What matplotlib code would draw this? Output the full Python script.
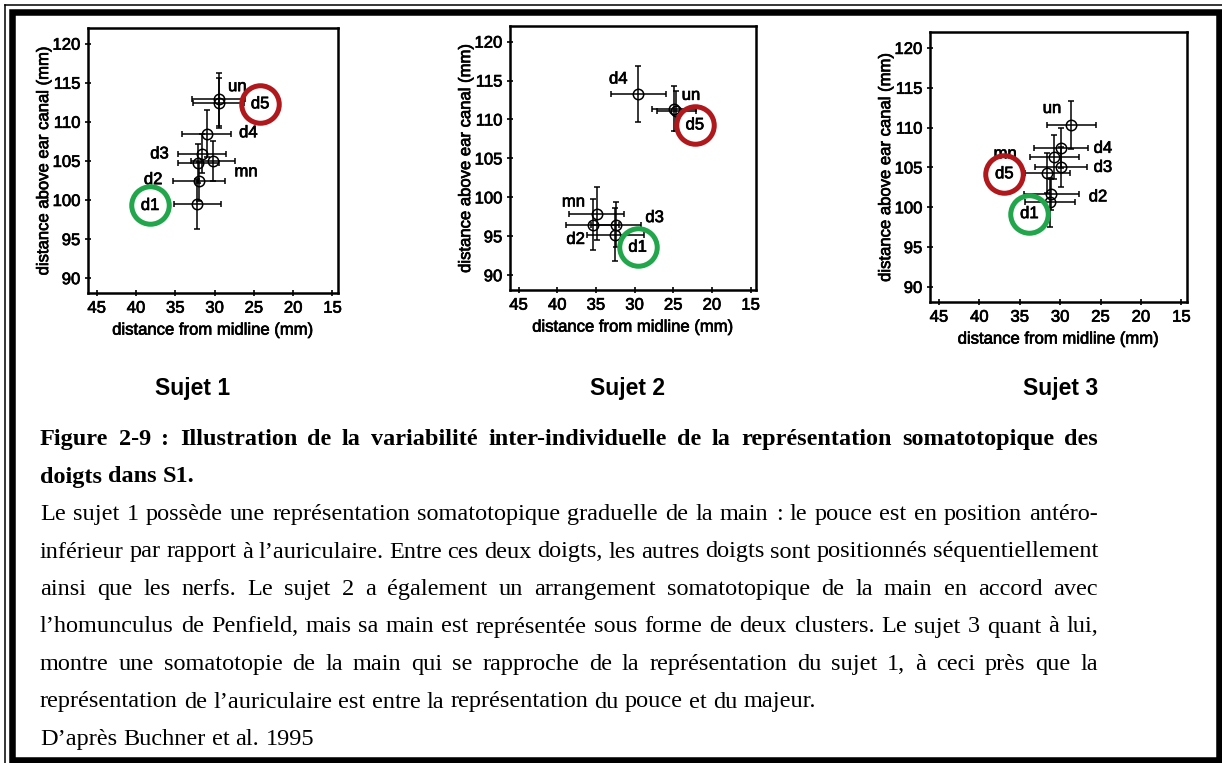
import matplotlib
matplotlib.use('Agg')
import matplotlib.pyplot as plt
import matplotlib.patheffects as pe
from matplotlib.lines import Line2D
from matplotlib.patches import Rectangle

# ---- data ----
# Sujet 1
s1_x = [29.5, 29.5, 31.0, 31.6, 32.1, 30.2, 32.0, 32.2]
s1_y = [112.9, 112.4, 108.5, 105.9, 104.7, 105.0, 102.4, 99.5]
s1_xerr = [3.4, 3.3, 3.1, 3.0, 2.6, 2.8, 3.3, 3.0]
s1_yerr = [3.4, 3.2, 3.0, 2.5, 2.5, 2.6, 2.5, 3.2]
s1_names = ['un', 'd4', 'd3', 'mn', 'd2']
s1_name_x = [27.1, 25.7, 37.0, 26.0, 37.8]
s1_name_y = [114.5, 108.6, 105.9, 103.6, 102.6]
s1_rings = ['d5', 'd1']
s1_ring_x = [24.2, 38.2]
s1_ring_y = [112.3, 99.3]

# Sujet 2
s2_x = [29.5, 24.9, 24.6, 34.9, 35.4, 32.4, 32.5]
s2_y = [113.3, 111.4, 111.1, 97.9, 96.5, 96.5, 95.2]
s2_xerr = [3.6, 2.9, 2.5, 3.6, 3.4, 3.2, 3.7]
s2_yerr = [3.6, 2.9, 2.6, 3.4, 3.3, 2.9, 3.4]
s2_names = ['d4', 'un', 'mn', 'd3', 'd2']
s2_name_x = [32.1, 22.7, 37.9, 27.4, 37.6]
s2_name_y = [115.2, 113.1, 99.4, 97.4, 94.6]
s2_rings = ['d5', 'd1']
s2_ring_x = [22.2, 29.6]
s2_ring_y = [109.3, 93.6]

# Sujet 3
s3_x = [28.6, 29.9, 30.7, 29.9, 31.6, 31.1, 31.3]
s3_y = [110.3, 107.4, 106.3, 105.1, 104.3, 101.6, 100.6]
s3_xerr = [3.0, 3.3, 3.0, 3.2, 2.8, 3.4, 3.1]
s3_yerr = [3.0, 2.5, 2.8, 2.5, 2.5, 2.0, 3.1]
s3_names = ['un', 'd4', 'd3', 'd2', 'mn']
s3_name_x = [31.0, 24.7, 24.7, 25.3, 36.8]
s3_name_y = [112.4, 107.4, 105.0, 101.3, 106.7]
s3_rings = ['d5', 'd1']
s3_ring_x = [36.9, 33.8]
s3_ring_y = [104.2, 99.2]

subjects = ['Sujet 1', 'Sujet 2', 'Sujet 3']
x_ticks = [45, 40, 35, 30, 25, 20, 15]
y_ticks = [90, 95, 100, 105, 110, 115, 120]

caption_bold = [
    'Figure 2-9 : Illustration de la variabilité inter-individuelle de la représentation  somatotopique des',
    'doigts dans S1.',
]
caption_body = [
    'Le sujet 1 possède une représentation somatotopique graduelle de la main : le pouce est en position antéro-',
    'inférieur par rapport à l’auriculaire. Entre ces deux doigts, les autres doigts sont positionnés séquentiellement',
    'ainsi que les nerfs. Le sujet 2 a également un arrangement somatotopique de la main en accord avec',
    'l’homunculus de Penfield, mais sa main est représentée sous forme de deux clusters. Le sujet 3 quant à lui,',
    'montre une somatotopie de la main qui se rapproche de la représentation du sujet 1, à ceci près que la',
    'représentation de l’auriculaire est entre la représentation du pouce et du majeur.',
    'D’après Buchner et al. 1995',
]

# ---- figure ----
W, H = 1222, 763
fig = plt.figure(figsize=(W / 100, H / 100), dpi=100)
plt.rcParams['font.family'] = 'Liberation Sans'

def fx(px):
    return px / W

def fy(py):
    return 1 - py / H

# scanned look: fonts a little heavier
heavy = [pe.withStroke(linewidth=0.5, foreground='k')]

panels = [
    (s1_x, s1_y, s1_xerr, s1_yerr, s1_names, s1_name_x, s1_name_y, s1_rings, s1_ring_x, s1_ring_y),
    (s2_x, s2_y, s2_xerr, s2_yerr, s2_names, s2_name_x, s2_name_y, s2_rings, s2_ring_x, s2_ring_y),
    (s3_x, s3_y, s3_xerr, s3_yerr, s3_names, s3_name_x, s3_name_y, s3_rings, s3_ring_x, s3_ring_y),
]
# axes boxes in pixels: left, top, right, bottom
boxes = [(88, 28, 338, 293), (510, 26, 756, 290), (930, 32, 1187, 302)]
sujet_x = [193, 628, 1061]
ring_colors = ['#b0181c', '#22a64c']

for (px, py, pxe, pye, names, nx, ny, rings, rx, ry), (l, t, r, b), sx, title in zip(panels, boxes, sujet_x, subjects):
    ax = fig.add_axes([fx(l), fy(b), (r - l) / W, (b - t) / H])
    ax.errorbar(px, py, xerr=pxe, yerr=pye, fmt='o', ms=7.5, mfc='none', mec='k', mew=1.1,
                ecolor='k', elinewidth=1.1, capsize=2.2, capthick=1.1)
    for n, x, y in zip(names, nx, ny):
        ax.text(x, y, n, ha='center', va='center', fontsize=12, zorder=3, path_effects=heavy)
    for n, x, y, c in zip(rings, rx, ry, ring_colors):
        ax.plot(x, y, marker='o', ms=27, mfc='none', mec=c, mew=3.6, clip_on=False, zorder=5)
        ax.text(x, y, n, ha='center', va='center', fontsize=12, zorder=6, path_effects=heavy)
    ax.set_xlim(46.1, 14.3)
    ax.set_ylim(88.1, 122)
    ax.set_xticks(x_ticks)
    ax.set_yticks(y_ticks)
    ax.tick_params(direction='inout', length=5, width=1.2, labelsize=12, pad=3)
    for lab in ax.get_xticklabels() + ax.get_yticklabels():
        lab.set_path_effects(heavy)
    for sp in ax.spines.values():
        sp.set_linewidth(1.8)
    ax.set_xlabel('distance from midline (mm)', fontsize=12, labelpad=5, path_effects=heavy)
    ax.set_ylabel('distance above ear canal (mm)', fontsize=12, labelpad=1, path_effects=heavy)
    fig.text(fx(sx), fy(388), title, ha='center', va='center', fontsize=16.5, fontweight='bold')

# ---- caption, justified like the original ----
renderer = fig.canvas.get_renderer()
left_px, right_px = 40, 1098

def put_line(line, base_px, bold, justify):
    kw = dict(family='Liberation Serif', fontsize=17.5, va='baseline',
              fontweight='bold' if bold else 'normal')
    words = line.split()
    texts = [fig.text(0, fy(base_px), w, **kw) for w in words]
    widths = [t.get_window_extent(renderer).width for t in texts]
    a = fig.text(0, 0, 'a a', **kw)
    bb = fig.text(0, 0, 'aa', **kw)
    gap = a.get_window_extent(renderer).width - bb.get_window_extent(renderer).width
    a.remove()
    bb.remove()
    if justify and len(words) > 1:
        gap = (right_px - left_px - sum(widths)) / (len(words) - 1)
    x = left_px
    for t, w in zip(texts, widths):
        t.set_x(fx(x))
        x += w + gap

line_step = 37.5
bold_base = [445 + i * line_step for i in range(len(caption_bold))]
body_base = [bold_base[-1] + line_step * (i + 1) for i in range(len(caption_body))]
for i, line in enumerate(caption_bold):
    put_line(line, bold_base[i], True, i < len(caption_bold) - 1)
for i, line in enumerate(caption_body):
    put_line(line, body_base[i], False, i < len(caption_body) - 2)

# ---- page border: thin outer line (top/left) and thick frame ----
fig.add_artist(Line2D([fx(5), fx(W)], [fy(5), fy(5)], color='k', lw=1.1, transform=fig.transFigure))
fig.add_artist(Line2D([fx(5), fx(5)], [fy(5), fy(H)], color='k', lw=1.1, transform=fig.transFigure))
fig.add_artist(Rectangle((fx(12), fy(760)), (1218.5 - 12) / W, (760 - 12) / H, fill=False,
                         ec='k', lw=4.7, transform=fig.transFigure))

fig.savefig('out.png', dpi=100)
